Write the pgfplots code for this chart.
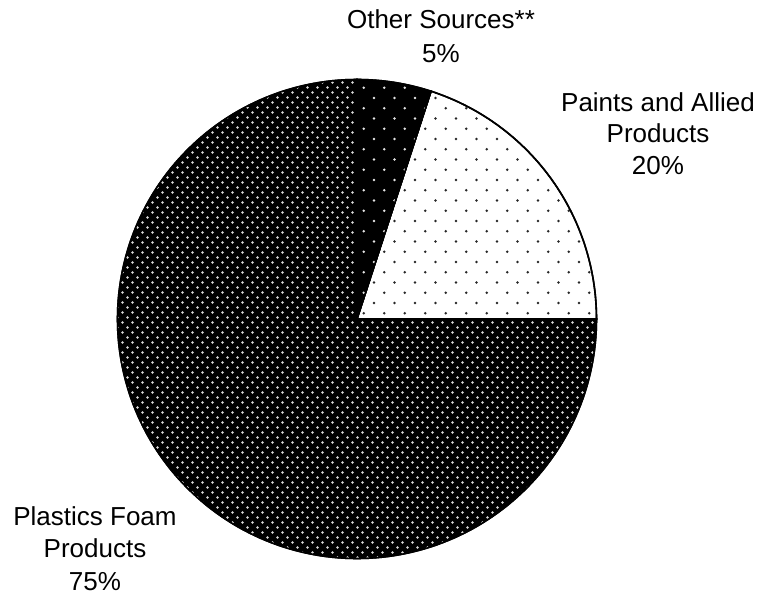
\documentclass[border=0pt]{standalone}
\usepackage{pgfplots}
\pgfplotsset{compat=1.18}
\usepgfplotslibrary{polar}
\usetikzlibrary{patterns}
\usepackage{fontspec}
\setmainfont{Liberation Sans}
\pgfdeclarepatternformonly{sparsedots}{\pgfqpoint{-2pt}{-2pt}}{\pgfqpoint{22pt}{22pt}}{\pgfqpoint{20.5pt}{20.5pt}}{%
  \pgfpathcircle{\pgfqpoint{5pt}{5pt}}{1.4pt}%
  \pgfpathcircle{\pgfqpoint{15.25pt}{15.25pt}}{1.4pt}%
  \pgfusepath{fill}%
}
\pgfdeclarepatternformonly{densedots}{\pgfqpoint{-2pt}{-2pt}}{\pgfqpoint{12pt}{12pt}}{\pgfqpoint{10pt}{10pt}}{%
  \pgfpathcircle{\pgfqpoint{2.5pt}{2.5pt}}{1.3pt}%
  \pgfpathcircle{\pgfqpoint{7.5pt}{7.5pt}}{1.3pt}%
  \pgfusepath{fill}%
}
\begin{document}
\begin{tikzpicture}[x=1pt,y=1pt]
\useasboundingbox (0,0) rectangle (759,595);
\begin{polaraxis}[
  at={(357pt,276pt)}, anchor=center,
  scale only axis, width=479pt, height=479pt,
  xmin=0, xmax=360, ymin=0, ymax=1,
  hide axis, clip=false,
]
% shares: Other Sources 5% (72-90 deg), Paints 20% (0-72 deg), Plastics Foam 75% (90-360 deg)
\addplot[draw=black, line width=1.6pt, fill=black, domain=90:360, samples=181,
  postaction={pattern=densedots, pattern color=white!85!black}] {1} -- (axis cs:0,0) -- cycle;
\addplot[draw=black, line width=1.6pt, fill=white, domain=0:72, samples=61,
  postaction={pattern=sparsedots, pattern color=black!85}] {1} -- (axis cs:0,0) -- cycle;
\addplot[draw=black, line width=1.6pt, fill=black, domain=72:90, samples=21,
  postaction={pattern=sparsedots, pattern color=white!90!black}] {1} -- (axis cs:0,0) -- cycle;
\end{polaraxis}
\begin{scope}[every node/.style={anchor=base, inner sep=0pt, font=\fontsize{26}{31}\selectfont}]
\node at (441,566) {Other Sources**};
\node at (441,532) {5\%};
\node at (658,483) {Paints and Allied};
\node at (658,452) {Products};
\node at (658,420) {20\%};
\node at (95,70) {Plastics Foam};
\node at (95,38) {Products};
\node at (95,5) {75\%};
\end{scope}
\end{tikzpicture}
\end{document}
